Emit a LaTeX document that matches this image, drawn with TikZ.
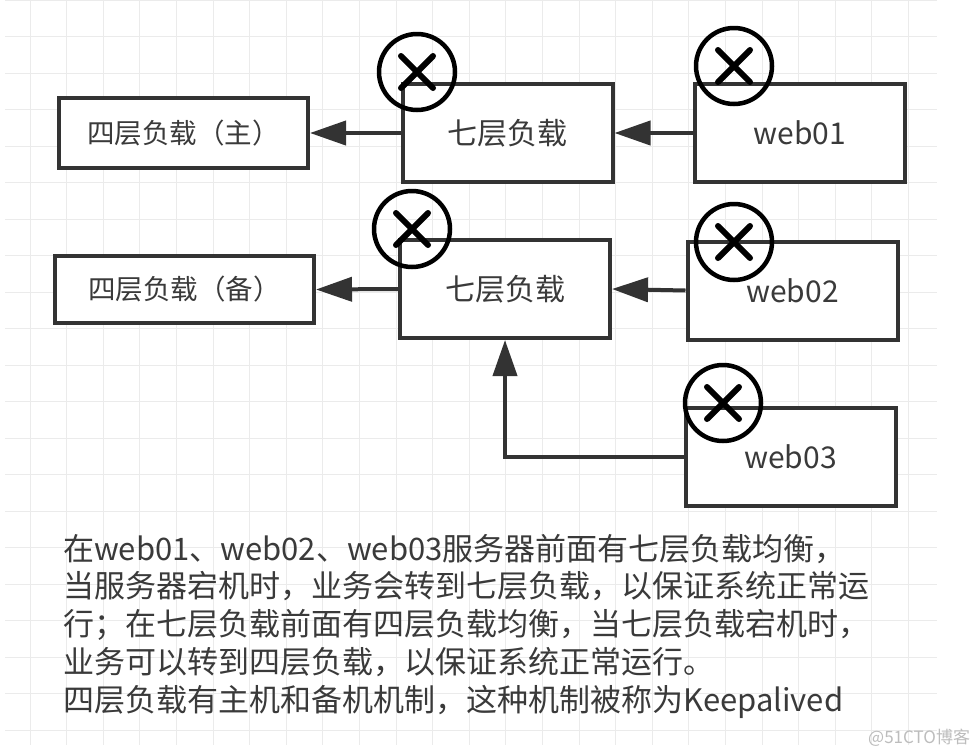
\documentclass[tikz,border=0pt]{standalone}
\usepackage{fontspec}
\setmainfont{Noto Sans CJK SC}
\usetikzlibrary{arrows.meta}
\definecolor{boxgray}{HTML}{333333}
\definecolor{txtgray}{HTML}{3A3A3A}
\definecolor{gridgray}{HTML}{EBEBEB}
\definecolor{markgray}{HTML}{BDBDBD}

\begin{document}
\begin{tikzpicture}[x=1pt, y=-1pt,
  box/.style={draw=boxgray, fill=white, line width=4pt, text=txtgray, inner sep=0pt},
  l4box/.style={box, font=\fontsize{27.5}{33}\selectfont, minimum height=70pt},
  tier/.style={box, font=\fontsize{30}{36}\selectfont, minimum width=210pt, minimum height=98pt},
  down/.style={circle, draw=black, line width=4.5pt, minimum size=76pt, inner sep=0pt,
    path picture={
      \draw[line width=6pt, line cap=round]
        ([shift={(-16pt,-16pt)}]path picture bounding box.center) -- ([shift={(16pt,16pt)}]path picture bounding box.center)
        ([shift={(-16pt,16pt)}]path picture bounding box.center) -- ([shift={(16pt,-16pt)}]path picture bounding box.center);
    }},
  link/.style={draw=boxgray, line width=4pt, -{Triangle[length=36pt,width=24pt]}}]
\useasboundingbox (0,0) rectangle (977,745);
\fill[white] (0,0) rectangle (977,745);
\foreach \gx in {0,...,24}
  \draw[gridgray, line width=1pt] (30+36.6*\gx,0) -- (30+36.6*\gx,745);
\foreach \gy in {0,...,20}
  \draw[gridgray, line width=1pt] (5,36.5*\gy) -- (937,36.5*\gy);

\node[l4box, minimum width=249pt] (l4main) at (183.5,133) {四层负载（主）};
\node[tier] (l7a) at (507.5,133) {七层负载};
\node[tier] (web01) at (800,133) {web01};

\node[l4box, minimum width=259pt, minimum height=67pt] (l4bak) at (184.5,289.5) {四层负载（备）};
\node[tier] (l7b) at (505,289) {七层负载};
\node[tier] (web02) at (792.5,290.5) {web02};

\node[tier] (web03) at (790.5,457) {web03};

\draw[link] (l7a.west) -- (l4main.east);
\draw[link] (web01.west) -- (l7a.east);
\draw[link] (l7b.west) -- (l4bak.east);
\draw[link] (web02.west) -- (l7b.east);
\draw[link] (web03.west) -| (l7b.south);

\node[down] (xl7a) at (417,72) {};
\node[down] (xweb01) at (734,66) {};
\node[down] (xl7b) at (412,229) {};
\node[down] (xweb02) at (734,242) {};
\node[down] (xweb03) at (723,403) {};

\node[anchor=base west, align=left, inner sep=0pt, text=txtgray,
  font=\fontsize{31}{37.75}\selectfont] (note) at (63,711)
  {在web01、web02、web03服务器前面有七层负载均衡，\\
   当服务器宕机时，业务会转到七层负载，以保证系统正常运\\
   行；在七层负载前面有四层负载均衡，当七层负载宕机时，\\
   业务可以转到四层负载，以保证系统正常运行。\\
   四层负载有主机和备机机制，这种机制被称为Keepalived};
\node[anchor=base west, inner sep=0pt, text=markgray,
  font=\fontsize{17}{20}\selectfont] (mark) at (868,743) {@51CTO博客};
\end{tikzpicture}
\end{document}
